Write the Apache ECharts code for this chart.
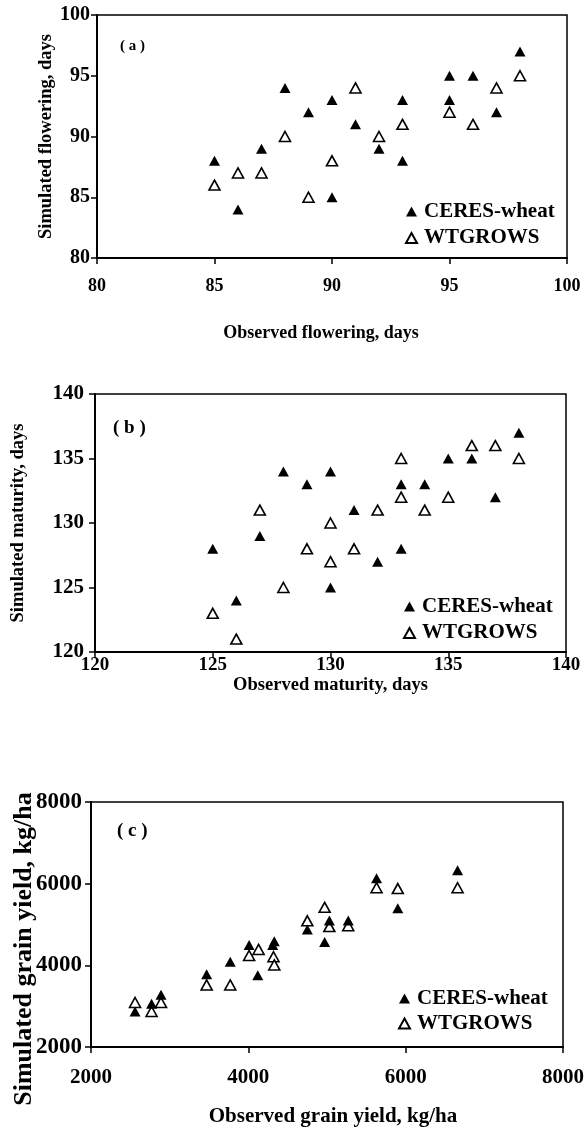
<!DOCTYPE html>
<html><head><meta charset="utf-8">
<script src="https://cdn.jsdelivr.net/npm/echarts@6/dist/echarts.min.js"></script>
<style>html,body{margin:0;padding:0;background:#fff}#chart{width:584px;height:1129px}</style>
</head><body><div id="chart"></div>
<script>
const FONT = '"Liberation Serif", "Times New Roman", Times, serif';

// Panel (a) flowering, days
const flowObsCeres = [85, 86, 87, 88, 89, 90, 90, 91, 92, 93, 93, 95, 95, 96, 97, 98];
const flowSimCeres = [88, 84, 89, 94, 92, 93, 85, 91, 89, 93, 88, 95, 93, 95, 92, 97];
const flowObsWt    = [85, 86, 87, 88, 89, 90, 91, 92, 93, 95, 96, 97, 98];
const flowSimWt    = [86, 87, 87, 90, 85, 88, 94, 90, 91, 92, 91, 94, 95];

// Panel (b) maturity, days
const matObsCeres = [125, 126, 127, 128, 129, 130, 130, 131, 132, 133, 133, 134, 135, 136, 137, 138];
const matSimCeres = [128, 124, 129, 134, 133, 134, 125, 131, 127, 133, 128, 133, 135, 135, 132, 137];
const matObsWt    = [125, 126, 127, 128, 129, 130, 130, 131, 132, 133, 133, 134, 135, 136, 137, 138];
const matSimWt    = [123, 121, 131, 125, 128, 130, 127, 128, 131, 135, 132, 131, 132, 136, 136, 135];

// Panel (c) grain yield, kg/ha
const yldObsCeres = [2560, 2770, 2890, 3470, 3770, 4010, 4120, 4310, 4330, 4750, 4970, 5030, 5270, 5630, 5900, 6660];
const yldSimCeres = [2870, 3060, 3280, 3780, 4090, 4500, 3760, 4500, 4590, 4880, 4570, 5100, 5100, 6130, 5400, 6330];
const yldObsWt    = [2560, 2770, 2890, 3470, 3770, 4010, 4130, 4320, 4330, 4750, 4970, 5030, 5270, 5630, 5900, 6660];
const yldSimWt    = [3090, 2870, 3090, 3520, 3520, 4240, 4390, 4210, 4010, 5090, 5420, 4950, 4970, 5900, 5880, 5900];

const seriesNames = ['CERES-wheat', 'WTGROWS'];
const panelLabels = ['( a )', '( b )', '( c )'];
const xTitles = ['Observed flowering, days', 'Observed maturity, days', 'Observed grain yield, kg/ha'];
const yTitles = ['Simulated flowering, days', 'Simulated maturity, days', 'Simulated grain yield, kg/ha'];
const axisRanges = [[80, 100, 5], [120, 140, 5], [2000, 8000, 2000]];

function pairs(xs, ys) { return xs.map((x, i) => [x, ys[i]]); }

const grids = [
  { left: 97, top: 15, width: 470, height: 243 },
  { left: 95, top: 394, width: 471, height: 258 },
  { left: 91, top: 802, width: 472, height: 245 }
];
// per-panel text sizes / gaps
const sty = [
  { xfs: 18, yfs: 20, xm: 19, ym: 7, xnfs: 18, ynfs: 18.5, xgap: 66, ygap: 41, xpad: [0, 22, 0, 0], ypad: [0, 0, 0, 0] },
  { xfs: 19, yfs: 21, xm: 4, ym: 11, xnfs: 18.5, ynfs: 18.5, xgap: 24, ygap: 67, xpad: [0, 0, 0, 0], ypad: [0, 0, 0, 0] },
  { xfs: 21, yfs: 23, xm: 20, ym: 9, xnfs: 21, ynfs: 26, xgap: 59, ygap: 54, xpad: [0, 0, 0, 12], ypad: [0, 49, 0, 0] }
];

const xAxes = [], yAxes = [];
for (let i = 0; i < 3; i++) {
  const [mn, mx, iv] = axisRanges[i];
  const s = sty[i];
  const common = {
    gridIndex: i, type: 'value', min: mn, max: mx, interval: iv,
    splitLine: { show: false },
    axisLine: { show: true, onZero: false, lineStyle: { color: '#000', width: 2 } },
    axisTick: { show: true, inside: false, length: 6, lineStyle: { color: '#000', width: 1.5 } },
    nameLocation: 'middle',
    nameMoveOverlap: false
  };
  xAxes.push(Object.assign({}, common, {
    name: xTitles[i], nameGap: s.xgap,
    nameTextStyle: { fontFamily: FONT, fontWeight: 'bold', fontSize: s.xnfs, color: '#000', padding: s.xpad },
    axisLabel: { fontFamily: FONT, fontWeight: 'bold', fontSize: s.xfs, color: '#000', margin: s.xm, formatter: v => String(v) }
  }));
  yAxes.push(Object.assign({}, common, {
    name: yTitles[i], nameGap: s.ygap, nameRotate: 90,
    nameTextStyle: { fontFamily: FONT, fontWeight: 'bold', fontSize: s.ynfs, color: '#000', padding: s.ypad },
    axisLabel: { fontFamily: FONT, fontWeight: 'bold', fontSize: s.yfs, color: '#000', margin: s.ym, formatter: v => String(v) }
  }));
}

const data = [
  [pairs(flowObsCeres, flowSimCeres), pairs(flowObsWt, flowSimWt)],
  [pairs(matObsCeres, matSimCeres), pairs(matObsWt, matSimWt)],
  [pairs(yldObsCeres, yldSimCeres), pairs(yldObsWt, yldSimWt)]
];

const series = [];
for (let i = 0; i < 3; i++) {
  series.push({
    name: seriesNames[1], type: 'scatter', xAxisIndex: i, yAxisIndex: i,
    symbol: 'triangle', symbolSize: [11, 10], z: 2,
    itemStyle: { color: '#fff', borderColor: '#000', borderWidth: 1.6, opacity: 1 },
    emphasis: { disabled: true },
    data: data[i][1]
  });
  series.push({
    name: seriesNames[0], type: 'scatter', xAxisIndex: i, yAxisIndex: i,
    symbol: 'triangle', symbolSize: [11, 10], z: 3,
    itemStyle: { color: '#000', borderColor: '#000', borderWidth: 0, opacity: 1 },
    emphasis: { disabled: true },
    data: data[i][0]
  });
}

const legendPos = [
  { left: 405, top: 201, itemGap: 5.5 },
  { left: 403, top: 596, itemGap: 5.5 },
  { left: 398, top: 988, itemGap: 4 }
];
const legends = legendPos.map(p => ({
  orient: 'vertical', left: p.left, top: p.top, padding: 0, itemGap: p.itemGap,
  itemWidth: 11, itemHeight: 10, selectedMode: false,
  data: [{ name: seriesNames[0], icon: 'triangle' }, { name: seriesNames[1], icon: 'triangle' }],
  textStyle: { fontFamily: FONT, fontWeight: 'bold', fontSize: 21, color: '#000', padding: [0, 0, 0, 2] }
}));

const titlePos = [
  { left: 120, top: 39, fs: 15 },
  { left: 113, top: 419, fs: 19 },
  { left: 117, top: 822, fs: 19 }
];
const titles = titlePos.map((p, i) => ({
  text: panelLabels[i], left: p.left, top: p.top, padding: 0,
  textStyle: { fontFamily: FONT, fontWeight: 'bold', fontSize: p.fs, color: '#000' }
}));

const chart = echarts.init(document.getElementById('chart'), null, { renderer: 'canvas' });
chart.setOption({
  animation: false,
  backgroundColor: '#fff',
  title: titles,
  legend: legends,
  grid: grids.map(g => Object.assign({ show: true, borderColor: '#000', borderWidth: 1.5, backgroundColor: 'transparent', containLabel: false, outerBoundsMode: 'none' }, g)),
  xAxis: xAxes,
  yAxis: yAxes,
  series: series
});
</script>
</body></html>
